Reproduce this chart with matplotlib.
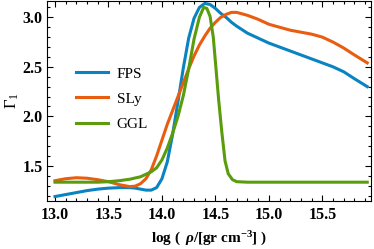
import matplotlib
matplotlib.use("Agg")
import matplotlib.pyplot as plt
from matplotlib.ticker import MultipleLocator

# values
fps_x = [13.0, 13.1, 13.2, 13.3, 13.4, 13.5, 13.6, 13.7, 13.75, 13.8, 13.85, 13.9,
         13.95, 14.0, 14.05, 14.1, 14.15, 14.2, 14.25, 14.3, 14.35, 14.4, 14.45,
         14.5, 14.55, 14.6, 14.65, 14.7, 14.8, 14.9, 15.0, 15.1, 15.2, 15.3, 15.4,
         15.5, 15.6, 15.7, 15.8, 15.92]
fps_y = [1.19, 1.21, 1.23, 1.25, 1.265, 1.275, 1.28, 1.28, 1.275, 1.265, 1.255, 1.255,
         1.28, 1.37, 1.54, 1.82, 2.15, 2.49, 2.79, 2.99, 3.10, 3.14, 3.13,
         3.09, 3.04, 3.00, 2.95, 2.91, 2.84, 2.79, 2.74, 2.70, 2.66, 2.62, 2.58,
         2.54, 2.50, 2.45, 2.38, 2.30]

sly_x = [13.0, 13.1, 13.2, 13.3, 13.4, 13.5, 13.6, 13.7, 13.75, 13.8, 13.85, 13.9,
         13.95, 14.0, 14.05, 14.1, 14.15, 14.2, 14.25, 14.3, 14.35, 14.4, 14.45,
         14.5, 14.55, 14.6, 14.65, 14.7, 14.8, 14.9, 15.0, 15.1, 15.2, 15.3, 15.4,
         15.5, 15.6, 15.7, 15.8, 15.92]
sly_y = [1.35, 1.37, 1.38, 1.375, 1.36, 1.34, 1.31, 1.29, 1.295, 1.32, 1.37, 1.46,
         1.60, 1.76, 1.92, 2.06, 2.20, 2.34, 2.48, 2.61, 2.72, 2.81, 2.89,
         2.95, 3.00, 3.03, 3.05, 3.05, 3.02, 2.98, 2.93, 2.90, 2.87, 2.85, 2.83,
         2.80, 2.75, 2.69, 2.62, 2.54]

ggl_x = [13.0, 13.2, 13.4, 13.5, 13.6, 13.7, 13.8, 13.9, 13.95, 14.0, 14.05, 14.1,
         14.15, 14.2, 14.25, 14.3, 14.35, 14.39, 14.42, 14.45, 14.48, 14.5, 14.53,
         14.56, 14.59, 14.62, 14.66, 14.7, 14.8, 15.0, 15.5, 15.92]
ggl_y = [1.335, 1.335, 1.335, 1.34, 1.35, 1.365, 1.39, 1.44, 1.48, 1.56, 1.68, 1.83,
         2.00, 2.21, 2.48, 2.78, 3.00, 3.10, 3.09, 3.01, 2.80, 2.55, 2.17,
         1.84, 1.55, 1.42, 1.36, 1.34, 1.335, 1.335, 1.335, 1.335]

series = [("FPS", fps_x, fps_y, "#0a83c1"),
          ("SLy", sly_x, sly_y, "#e85d0f"),
          ("GGL", ggl_x, ggl_y, "#5a9c0c")]

plt.rcParams["mathtext.fontset"] = "custom"
plt.rcParams["mathtext.rm"] = "Liberation Serif:bold"
plt.rcParams["mathtext.it"] = "Liberation Serif:italic:bold"
plt.rcParams["mathtext.bf"] = "Liberation Serif:bold"

fig = plt.figure(figsize=(3.74, 2.49), dpi=100)
ax = fig.add_axes([47/374, 1 - 201/249, 324/374, 200/249])

for name, xs, ys, col in series:
    ax.plot(xs, ys, color=col, lw=2.2, label=name, solid_joinstyle="round")

ax.set_xlim(12.925, 15.955)
ax.set_ylim(1.145, 3.165)

ax.xaxis.set_major_locator(MultipleLocator(0.5))
ax.xaxis.set_minor_locator(MultipleLocator(0.1))
ax.yaxis.set_major_locator(MultipleLocator(0.5))
ax.yaxis.set_minor_locator(MultipleLocator(0.1))
ax.tick_params(which="both", direction="in", top=True, right=True, width=0.8)
ax.tick_params(which="major", length=4)
ax.tick_params(which="minor", length=2)
for lab in ax.get_xticklabels() + ax.get_yticklabels():
    lab.set_fontfamily("Liberation Serif")
    lab.set_fontweight("bold")
    lab.set_fontsize(11.5)
ax.tick_params(axis="x", pad=4)
ax.tick_params(axis="y", pad=3)
for sp in ax.spines.values():
    sp.set_linewidth(0.8)

ax.set_xlabel(r"log ( $\,\rho$/[gr cm$^{-3}$] )", family="Liberation Serif",
              fontweight="bold", fontsize=11, labelpad=5)
ax.set_ylabel(r"Γ$_\mathregular{1}$", family="Liberation Serif", fontsize=12, labelpad=1)

leg = ax.legend(loc="upper left", bbox_to_anchor=(0.088, 0.67), frameon=False,
                borderpad=0, borderaxespad=0, handlelength=2.1, handletextpad=0.6,
                labelspacing=0.75, prop={"family": "Liberation Serif", "size": 11})

fig.savefig("out.png", dpi=100)
